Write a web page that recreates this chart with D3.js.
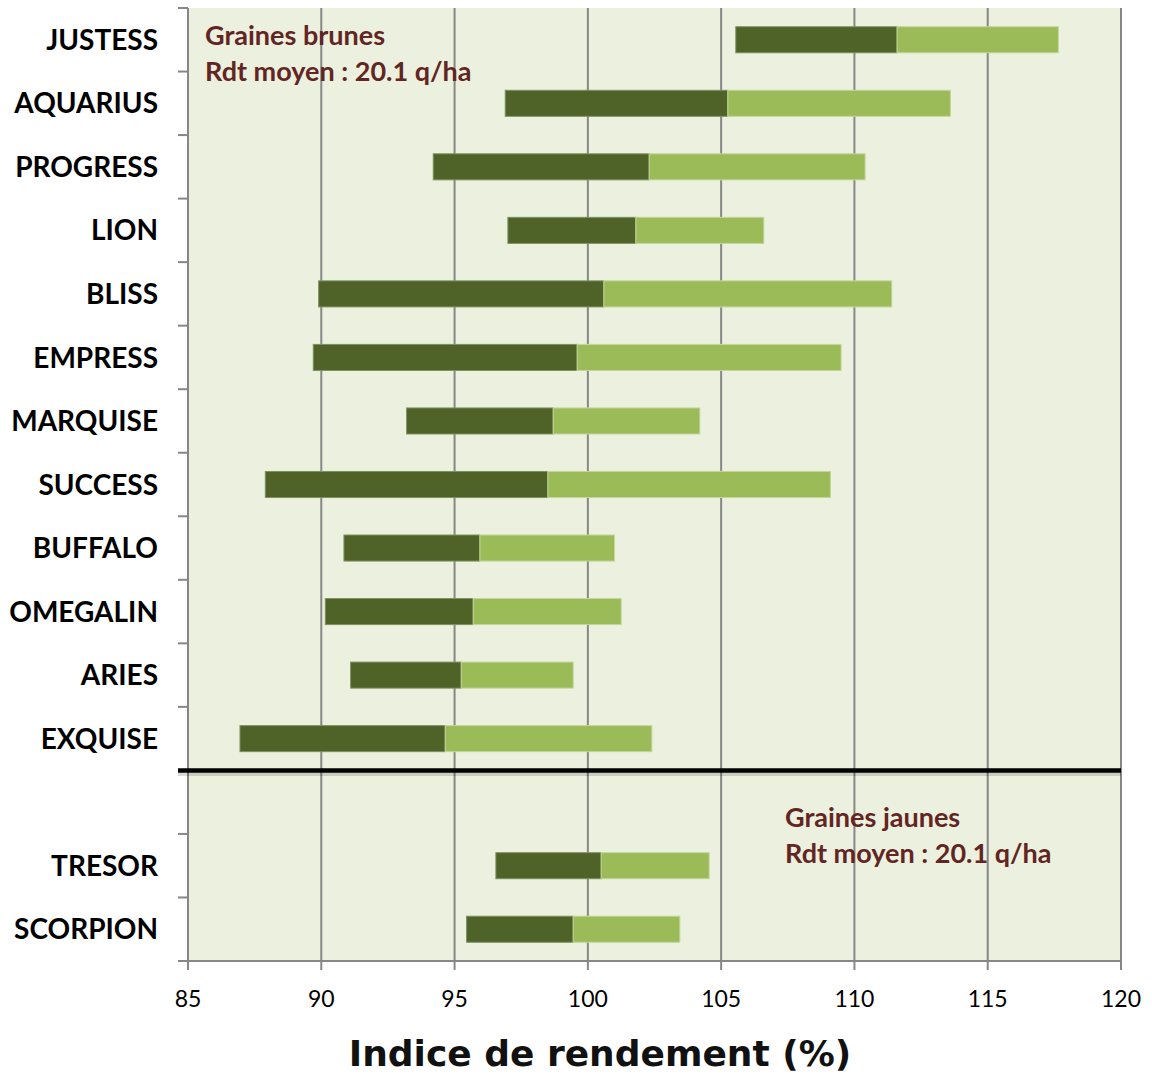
<!doctype html>
<html>
<head>
  <title>Indice de rendement</title>
  <script src="https://d3js.org/d3.v7.min.js" charset="utf-8"></script>
  <style>
    body { margin: 0; background: #fff; }
  </style>
</head>
<body>
  <svg width="1152" height="1075"></svg>
  <script>
  // varieties, top to bottom ("" = empty slot between the two groups)
  var varieties = ["JUSTESS", "AQUARIUS", "PROGRESS", "LION", "BLISS", "EMPRESS", "MARQUISE",
                   "SUCCESS", "BUFFALO", "OMEGALIN", "ARIES", "EXQUISE", "", "TRESOR", "SCORPION"];
  var minValues  = [105.55, 96.9, 94.2, 97.0, 89.9, 89.7, 93.2, 87.9, 90.85, 90.15, 91.1, 86.95, null, 96.55, 95.45];
  var meanValues = [111.6, 105.25, 102.3, 101.8, 100.6, 99.6, 98.7, 98.5, 95.95, 95.7, 95.25, 94.65, null, 100.5, 99.45];
  var maxValues  = [117.65, 113.6, 110.4, 106.6, 111.4, 109.5, 104.2, 109.1, 101.0, 101.25, 99.45, 102.4, null, 104.55, 103.45];
  var xTicks = [85, 90, 95, 100, 105, 110, 115, 120];

  var svg = d3.select("svg"),
      margin = {top: 8, right: 31, bottom: 114, left: 188},
      width = +svg.attr("width") - margin.left - margin.right,
      height = +svg.attr("height") - margin.top - margin.bottom;

  var slots = d3.range(varieties.length);
  var x = d3.scaleLinear().domain([85, 120]).range([0, width]),
      y = d3.scaleBand().domain(slots).range([0, height]).paddingInner(0.59).paddingOuter(0.295);

  var g = svg.append("g")
      .attr("transform", "translate(" + margin.left + "," + margin.top + ")");

  g.append("rect")
      .attr("width", width)
      .attr("height", height)
      .attr("fill", "#ebf1de");

  // vertical gridlines
  g.selectAll(".grid")
    .data(xTicks.slice(1))
    .enter().append("line")
      .attr("x1", function(d) { return x(d); })
      .attr("x2", function(d) { return x(d); })
      .attr("y1", 0)
      .attr("y2", height)
      .attr("stroke", "#878787")
      .attr("stroke-width", 2);

  var rows = slots.filter(function(i) { return minValues[i] !== null; });

  g.selectAll(".bar-low")
    .data(rows)
    .enter().append("rect")
      .attr("x", function(i) { return x(minValues[i]); })
      .attr("y", function(i) { return y(i); })
      .attr("width", function(i) { return x(meanValues[i]) - x(minValues[i]); })
      .attr("height", y.bandwidth())
      .attr("fill", "#4f6228")
      .attr("stroke", "#7f9160")
      .attr("stroke-width", 1);

  g.selectAll(".bar-high")
    .data(rows)
    .enter().append("rect")
      .attr("x", function(i) { return x(meanValues[i]); })
      .attr("y", function(i) { return y(i); })
      .attr("width", function(i) { return x(maxValues[i]) - x(meanValues[i]); })
      .attr("height", y.bandwidth())
      .attr("fill", "#9bbb59")
      .attr("stroke", "#c3d69b")
      .attr("stroke-width", 1);

  // y axis: line with ticks between categories
  var yBounds = d3.range(varieties.length + 1).map(function(k) { return k * height / varieties.length; });
  g.append("line")
      .attr("x1", 0).attr("x2", 0).attr("y1", 0).attr("y2", height)
      .attr("stroke", "#878787").attr("stroke-width", 2);
  g.selectAll(".ytick")
    .data(yBounds)
    .enter().append("line")
      .attr("x1", -10).attr("x2", 0)
      .attr("y1", function(d) { return d; })
      .attr("y2", function(d) { return d; })
      .attr("stroke", "#878787").attr("stroke-width", 2);

  g.selectAll(".ylabel")
    .data(slots)
    .enter().append("text")
      .attr("x", -30)
      .attr("y", function(i) { return y(i) + y.bandwidth() / 2; })
      .attr("dy", "0.36em")
      .attr("text-anchor", "end")
      .style("font-family", "Lato, 'Open Sans', sans-serif")
      .style("font-weight", "bold")
      .style("font-size", "28px")
      .attr("fill", "#000")
      .text(function(i) { return varieties[i]; });

  // x axis
  g.append("line")
      .attr("x1", 0).attr("x2", width).attr("y1", height).attr("y2", height)
      .attr("stroke", "#878787").attr("stroke-width", 2);
  g.selectAll(".xtick")
    .data(xTicks)
    .enter().append("line")
      .attr("x1", function(d) { return x(d); })
      .attr("x2", function(d) { return x(d); })
      .attr("y1", height).attr("y2", height + 9)
      .attr("stroke", "#878787").attr("stroke-width", 2);
  g.selectAll(".xlabel")
    .data(xTicks)
    .enter().append("text")
      .attr("x", function(d) { return x(d); })
      .attr("y", height + 46)
      .attr("text-anchor", "middle")
      .style("font-family", "Lato, 'Open Sans', sans-serif")
      .style("font-size", "23px")
      .attr("fill", "#000")
      .text(function(d) { return d; });

  svg.append("text")
      .attr("x", 600)
      .attr("y", 1066)
      .attr("text-anchor", "middle")
      .style("font-family", "'DejaVu Sans', Verdana, sans-serif")
      .style("font-weight", "bold")
      .style("font-size", "36px")
      .attr("fill", "#111")
      .text("Indice de rendement (%)");

  // separator between brown and yellow seeds
  var sepY = yBounds[12];
  g.append("line")
      .attr("x1", -10).attr("x2", width)
      .attr("y1", sepY + 3).attr("y2", sepY + 3)
      .attr("stroke", "#000").attr("stroke-opacity", 0.15).attr("stroke-width", 5);
  g.append("line")
      .attr("x1", -10).attr("x2", width)
      .attr("y1", sepY).attr("y2", sepY)
      .attr("stroke", "#000").attr("stroke-width", 4.5);

  // group annotations
  var notes = [
    {lines: ["Graines brunes", "Rdt moyen : 20.1 q/ha"], x: 17, y: 37},
    {lines: ["Graines jaunes", "Rdt moyen : 20.1 q/ha"], x: 597, y: 819}
  ];
  notes.forEach(function(n) {
    n.lines.forEach(function(t, k) {
      g.append("text")
          .attr("x", n.x)
          .attr("y", n.y + k * 36 - margin.top + 8)
          .style("font-family", "Lato, 'Open Sans', sans-serif")
          .style("font-weight", "bold")
          .style("font-size", "27px")
          .attr("fill", "#632523")
          .text(t);
    });
  });
  </script>
</body>
</html>
